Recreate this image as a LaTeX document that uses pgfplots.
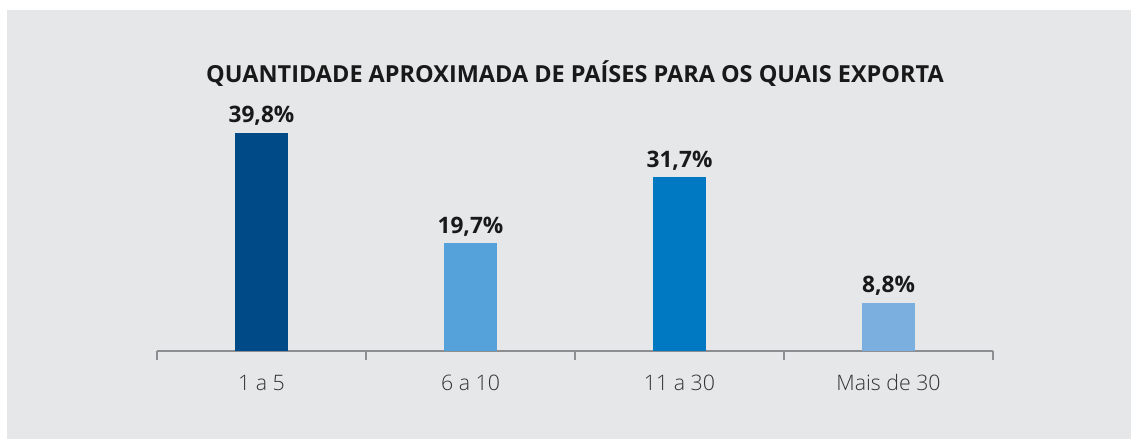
\documentclass[border=0pt]{standalone}
\usepackage{fontspec}
\setmainfont{Open Sans}
\newfontfamily\lightfont{Open Sans Light}
\usepackage{pgfplots}
\pgfplotsset{compat=1.18}
\definecolor{bgc}{HTML}{E6E7E9}
\definecolor{axc}{HTML}{8C8E91}
\definecolor{c1}{HTML}{004A87}
\definecolor{c2}{HTML}{55A1D9}
\definecolor{c3}{HTML}{0079C2}
\definecolor{c4}{HTML}{7AAFDF}
\definecolor{lab}{HTML}{333333}
\begin{document}
\begin{tikzpicture}
\fill[white] (-117.75pt,-66pt) rectangle (730.5pt,263.25pt);
\fill[bgc] (-112.5pt,-66pt) rectangle (730.5pt,255.75pt);
\begin{axis}[
  at={(0,0)}, anchor=south west,
  width=627pt, height=184.95pt, scale only axis,
  xmin=-0.5, xmax=3.5, ymin=0, ymax=45,
  axis x line*=bottom, axis y line=none,
  x axis line style={draw=axc, line width=1.1pt},
  xtick={0,1,2,3},
  xticklabels={1 a 5, 6 a 10, 11 a 30, Mais de 30},
  major tick length=0pt,
  tick align=outside,
  extra x ticks={-0.5,0.5,1.5,2.5,3.5},
  extra x tick labels={},
  extra x tick style={major tick length=6.75pt, tick style={draw=axc, line width=1.1pt}},
  xticklabel style={font=\lightfont\fontsize{16}{19}\selectfont, text=lab, anchor=base, yshift=-29.25pt, inner sep=0pt},
  ybar, bar width=39.75pt,
  nodes near coords={\pgfmathprintnumber[fixed,fixed zerofill,precision=1,use comma,assume math mode=true]{\pgfplotspointmeta}\%},
  every node near coord/.append style={font=\bfseries\fontsize{17}{20}\selectfont, text=black!90, anchor=base, yshift=7.5pt, inner sep=0pt},
  clip=false,
]
\addplot[fill=c1, draw=none, bar shift=0pt] coordinates {(0,39.8)};
\addplot[fill=c2, draw=none, bar shift=0pt] coordinates {(1,19.7)};
\addplot[fill=c3, draw=none, bar shift=0pt] coordinates {(2,31.7)};
\addplot[fill=c4, draw=none, bar shift=0pt] coordinates {(3,8.8)};
\end{axis}
\node[anchor=base, font=\bfseries\fontsize{17.6}{21}\selectfont, text=black!90, inner sep=0pt] at (313.5pt,201pt) {QUANTIDADE APROXIMADA DE PAÍSES PARA OS QUAIS EXPORTA};
\pgfresetboundingbox
\useasboundingbox (-117.75pt,-66pt) rectangle (730.5pt,263.25pt);
\end{tikzpicture}
\end{document}
